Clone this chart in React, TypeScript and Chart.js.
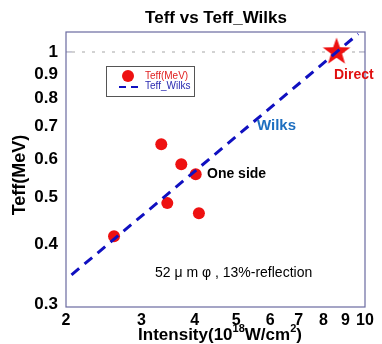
import React, { useEffect, useRef } from "react";
import { Chart, registerables } from "chart.js";

Chart.register(...registerables);

const intensity = [2.59, 3.34, 3.72, 3.45, 4.02, 4.09];
const teff = [0.415, 0.644, 0.585, 0.486, 0.558, 0.463];
const directIntensity = [8.58];
const directTeff = [1.0];
const wilksIntensity = [2.06, 9.64];
const wilksTeff = [0.345, 1.09];
const xTicks = [2, 3, 4, 5, 6, 7, 8, 9, 10];
const yTicks = [0.3, 0.4, 0.5, 0.6, 0.7, 0.8, 0.9, 1];

const FONT = "'Liberation Sans', Arial, sans-serif";

function makeStar(): HTMLCanvasElement {
  const c = document.createElement("canvas");
  c.width = 32;
  c.height = 32;
  const g = c.getContext("2d")!;
  const R = 14.5, r = 5.8, cx = 16, cy = 16;
  g.beginPath();
  for (let i = 0; i < 10; i++) {
    const rad = i % 2 === 0 ? R : r;
    const a = -Math.PI / 2 + (i * Math.PI) / 5;
    const px = cx + rad * Math.cos(a), py = cy + rad * Math.sin(a);
    if (i === 0) g.moveTo(px, py); else g.lineTo(px, py);
  }
  g.closePath();
  g.fillStyle = "#ee1111";
  g.fill();
  return c;
}

const decorPlugin = {
  id: "decor",
  beforeDatasetsDraw(chart: any) {
    const { ctx, chartArea: a, scales } = chart;
    const y1 = scales.y.getPixelForValue(1);
    ctx.save();
    ctx.strokeStyle = "#c4c4c4";
    ctx.lineWidth = 1.5;
    ctx.setLineDash([3, 7]);
    ctx.beginPath();
    ctx.moveTo(a.left + 6, y1);
    ctx.lineTo(a.right - 6, y1);
    ctx.stroke();
    ctx.setLineDash([]);
    ctx.strokeStyle = "#9a9ab0";
    ctx.lineWidth = 1;
    ctx.beginPath();
    ctx.moveTo(a.left, y1);
    ctx.lineTo(a.left + 6, y1);
    ctx.moveTo(a.right - 6, y1);
    ctx.lineTo(a.right, y1);
    ctx.stroke();
    ctx.strokeStyle = "#6a6aa0";
    ctx.lineWidth = 1.2;
    ctx.strokeRect(a.left, a.top, a.right - a.left, a.bottom - a.top);
    ctx.restore();
  },
  afterDraw(chart: any) {
    const { ctx } = chart;
    ctx.save();
    ctx.textBaseline = "middle";
    // title
    ctx.fillStyle = "#000";
    ctx.font = `bold 17px ${FONT}`;
    ctx.textAlign = "center";
    ctx.fillText("Teff vs Teff_Wilks", 216, 18);
    // y title
    ctx.save();
    ctx.translate(20, 175);
    ctx.rotate(-Math.PI / 2);
    ctx.font = `bold 18px ${FONT}`;
    ctx.fillText("Teff(MeV)", 0, 0);
    ctx.restore();
    // x title with superscripts
    const parts: [string, boolean][] = [
      ["Intensity(10", false],
      ["18", true],
      ["W/cm", false],
      ["2", true],
      [")", false],
    ];
    const big = `bold 17px ${FONT}`;
    const small = `bold 11px ${FONT}`;
    let total = 0;
    for (const [t, sup] of parts) {
      ctx.font = sup ? small : big;
      total += ctx.measureText(t).width;
    }
    let x = 220 - total / 2;
    ctx.textAlign = "left";
    for (const [t, sup] of parts) {
      ctx.font = sup ? small : big;
      ctx.fillText(t, x, sup ? 329 : 335);
      x += ctx.measureText(t).width;
    }
    // annotations
    ctx.font = `bold 14px ${FONT}`;
    ctx.fillStyle = "#e01010";
    ctx.fillText("Direct", 334, 75);
    ctx.fillStyle = "#1e6fc0";
    ctx.font = `bold 15px ${FONT}`;
    ctx.fillText("Wilks", 257, 126);
    ctx.fillStyle = "#000";
    ctx.font = `bold 14px ${FONT}`;
    ctx.fillText("One side", 207, 174);
    ctx.font = `14px ${FONT}`;
    ctx.fillText("52 \u03bc m \u03c6 , 13%-reflection", 155, 273);
    // legend
    ctx.strokeStyle = "#555";
    ctx.lineWidth = 1;
    ctx.strokeRect(106.5, 66.5, 88, 30);
    ctx.fillStyle = "#ee1111";
    ctx.beginPath();
    ctx.arc(128, 76, 6, 0, Math.PI * 2);
    ctx.fill();
    ctx.strokeStyle = "#1010c0";
    ctx.lineWidth = 2;
    ctx.setLineDash([7, 5]);
    ctx.beginPath();
    ctx.moveTo(119, 87);
    ctx.lineTo(140, 87);
    ctx.stroke();
    ctx.setLineDash([]);
    ctx.font = `10px ${FONT}`;
    ctx.fillStyle = "#e02020";
    ctx.fillText("Teff(MeV)", 145, 76);
    ctx.fillStyle = "#2a2ab0";
    ctx.fillText("Teff_Wilks", 145, 86);
    ctx.restore();
  },
};

export default function App() {
  const ref = useRef<HTMLCanvasElement>(null);
  useEffect(() => {
    document.body.style.margin = "0";
    const star = makeStar();
    const chart = new Chart(ref.current!, {
      type: "scatter",
      data: {
        datasets: [
          {
            label: "Teff_Wilks",
            data: wilksIntensity.map((x, i) => ({ x, y: wilksTeff[i] })),
            showLine: true,
            borderColor: "#1010c0",
            borderWidth: 3,
            borderDash: [10, 7],
            pointRadius: 0,
            fill: false,
          },
          {
            label: "Teff(MeV)",
            data: intensity.map((x, i) => ({ x, y: teff[i] })),
            backgroundColor: "#ee1111",
            borderColor: "#ee1111",
            pointRadius: 6,
            borderWidth: 0,
          },
          {
            label: "Direct",
            data: directIntensity.map((x, i) => ({ x, y: directTeff[i] })),
            pointStyle: star as any,
            pointRadius: 16,
          },
        ],
      },
      options: {
        animation: false,
        responsive: false,
        layout: { padding: { top: 32, right: 12, left: 0, bottom: 0 } },
        plugins: { legend: { display: false }, tooltip: { enabled: false }, title: { display: false } },
        scales: {
          x: {
            type: "logarithmic",
            min: 2,
            max: 10,
            afterBuildTicks: (s: any) => {
              s.ticks = xTicks.map((v) => ({ value: v }));
            },
            afterFit: (s: any) => {
              s.height = 37;
            },
            grid: { display: false, drawTicks: false },
            border: { display: false },
            ticks: {
              autoSkip: false,
              maxRotation: 0,
              padding: 4,
              color: "#000",
              font: { family: FONT, size: 16, weight: "bold" },
              callback: (v: any) => String(v),
            },
          },
          y: {
            type: "logarithmic",
            min: 0.296,
            max: 1.1,
            afterBuildTicks: (s: any) => {
              s.ticks = yTicks.map((v) => ({ value: v }));
            },
            afterFit: (s: any) => {
              s.width = 66;
            },
            grid: { display: false, drawTicks: false },
            border: { display: false },
            ticks: {
              autoSkip: false,
              padding: 8,
              color: "#000",
              font: { family: FONT, size: 17, weight: "bold" },
              callback: (v: any) => String(v),
            },
          },
        },
      },
      plugins: [decorPlugin],
    });
    return () => chart.destroy();
  }, []);
  return (
    <div style={{ width: 382, height: 344 }}>
      <canvas ref={ref} width={382} height={344} style={{ display: "block" }} />
    </div>
  );
}
